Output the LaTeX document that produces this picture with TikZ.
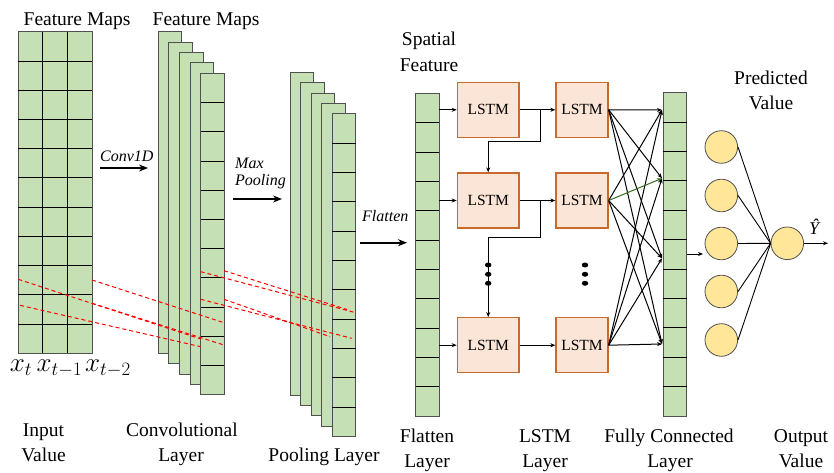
\RequirePackage{fix-cm}
\documentclass[tikz,border=0pt]{standalone}
\usepackage{fontspec}
\setmainfont{Liberation Serif}
\usetikzlibrary{arrows.meta,calc,shapes.geometric}
\definecolor{cellgreen}{RGB}{197,224,180}
\definecolor{lstmfill}{RGB}{251,229,214}
\definecolor{lstmedge}{RGB}{200,105,45}
\definecolor{neuronfill}{RGB}{255,230,153}
\definecolor{edgegray}{RGB}{80,80,80}
\definecolor{fcgreen}{RGB}{56,110,30}
\tikzset{
  colbox/.style={draw=edgegray, fill=cellgreen, line width=1, inner sep=0, outer sep=0, anchor=north west},
  rowline/.style={draw=black, line width=0.8},
  lbl/.style={font=\fontsize{19.5}{22}\selectfont, inner sep=0, anchor=base},
  ilbl/.style={font=\fontsize{16}{18}\selectfont\itshape, inner sep=0, anchor=base west},
  xlbl/.style={font=\fontsize{27}{30}\selectfont, inner sep=0, anchor=base},
  lstmbox/.style={draw=lstmedge, fill=lstmfill, line width=1.3, minimum height=55, inner sep=0, font=\fontsize{15.5}{17}\selectfont},
  neuron/.style={circle, draw=edgegray, fill=neuronfill, minimum size=32.6, inner sep=0, line width=0.8},
  arr/.style={-{Stealth[length=5pt,width=4pt]}, line width=1},
  bigarr/.style={-{Stealth[length=9pt,width=7pt]}, line width=2},
  reddash/.style={red, dash pattern=on 4pt off 3pt, line width=1},
  vdot/.style={ellipse, fill=black, minimum width=6.5, minimum height=5, inner sep=0}
}
\begin{document}
\begin{tikzpicture}[x=1pt,y=-1pt]
\useasboundingbox (0,0) rectangle (834,473);

% ---------- input grid ----------
\node[colbox, minimum width=73.7, minimum height=321.6] (inp) at (18.3,31.7) {};
\foreach \i in {1,...,10}
  \draw[rowline] ($(inp.north west)!\i/11!(inp.south west)$) -- ($(inp.north east)!\i/11!(inp.south east)$);
\foreach \j in {1,2}
  \draw[rowline] ($(inp.north west)!\j/3!(inp.north east)$) -- ($(inp.south west)!\j/3!(inp.south east)$);

% ---------- convolutional stack ----------
\foreach \k in {0,...,4}
  \node[colbox, minimum width=23.5, minimum height=321.5] (c\k) at ({158.3+10.6*\k},{31.7+10.4*\k}) {};
\foreach \i in {1,...,10}
  \draw[rowline] ($(c4.north west)!\i/11!(c4.south west)$) -- ($(c4.north east)!\i/11!(c4.south east)$);

% ---------- pooling stack ----------
\foreach \k in {0,...,4}
  \node[colbox, minimum width=23.6, minimum height=322.5] (p\k) at ({290+10.5*\k},{72.7+10.3*\k}) {};
\foreach \i in {1,...,10}
  \draw[rowline] ($(p4.north west)!\i/11!(p4.south west)$) -- ($(p4.north east)!\i/11!(p4.south east)$);

% ---------- flatten column ----------
\node[colbox, minimum width=23.6, minimum height=322.7] (flat) at (415.7,93.3) {};
\foreach \i in {1,...,10}
  \draw[rowline] ($(flat.north west)!\i/11!(flat.south west)$) -- ($(flat.north east)!\i/11!(flat.south east)$);

% ---------- fully connected column ----------
\node[colbox, minimum width=23.4, minimum height=323.3] (fc) at (663.3,92.7) {};
\foreach \i in {1,...,10}
  \draw[rowline] ($(fc.north west)!\i/11!(fc.south west)$) -- ($(fc.north east)!\i/11!(fc.south east)$);

% ---------- red dashed receptive fields ----------
\draw[reddash] (18.3,279.3) -- (200.7,339);
\draw[reddash] (92,280) -- (224,322.7);
\draw[reddash] (20,305.3) -- (200.7,346.7);
\draw[reddash] (92,303.3) -- (224,345);
\draw[reddash] (200.7,271.7) -- (355.7,312.7);
\draw[reddash] (224,270.7) -- (347,309.5);
\draw[reddash] (200.7,299.3) -- (351.7,338.3);
\draw[reddash] (224,299.3) -- (330,336.7);

% ---------- x labels ----------
\node[xlbl] (xa) at (21,371.7) {$x_t$};
\node[xlbl] (xb) at (59.5,371.7) {$x_{t-1}$};
\node[xlbl] (xc) at (108,371.7) {$x_{t-2}$};

% ---------- big arrows with italic labels ----------
\coordinate (a1s) at (100,168); \coordinate (a1e) at (148,168);
\draw[bigarr] (a1s) -- (a1e);
\node[ilbl] (conv) at (100,161.7) {Conv1D};
\coordinate (a2s) at (233,199); \coordinate (a2e) at (282,199);
\draw[bigarr] (a2s) -- (a2e);
\node[ilbl] (maxl) at (235,168.3) {Max};
\node[ilbl] (pooll) at (235,185) {Pooling};
\coordinate (a3s) at (360,242.7); \coordinate (a3e) at (407,242.7);
\draw[bigarr] (a3s) -- (a3e);
\node[ilbl] (flatl) at (362,221.7) {Flatten};

% ---------- LSTM boxes ----------
\node[lstmbox, minimum width=61.7] (l11) at (488.2,109.8) {LSTM};
\node[lstmbox, minimum width=52] (l12) at (582,109.8) {LSTM};
\node[lstmbox, minimum width=61.7] (l21) at (488.2,200.5) {LSTM};
\node[lstmbox, minimum width=52] (l22) at (582,200.5) {LSTM};
\node[lstmbox, minimum width=61.7] (l31) at (488.2,345.2) {LSTM};
\node[lstmbox, minimum width=52] (l32) at (582,345.2) {LSTM};

\foreach \r in {1,2,3} {
  \draw[arr] (flat.east |- l\r1) -- (l\r1);
  \draw[arr] (l\r1) -- (l\r2);
}
\coordinate (b1) at (540,109.8); \coordinate (k1) at (540,141.7);
\draw[arr] (b1) -- (k1) -| (l21.north);
\coordinate (b2) at (540,200.5); \coordinate (k2) at (540,237.3);
\draw[arr] (b2) -- (k2) -| (l31.north);
\foreach \yy [count=\n] in {265,274.3,283.3} {
  \node[vdot] (da\n) at (488.2,\yy) {};
  \node[vdot] (db\n) at (585,\yy) {};
}

% ---------- LSTM to fully connected ----------
\coordinate (t1) at (662,110);
\coordinate (t2) at (662,178.3);
\coordinate (t3) at (662,258.3);
\coordinate (t4) at (662,344);
\foreach \s in {l12,l32} \foreach \t in {t1,t2,t3,t4}
  \draw[arr] (\s.east) -- (\t);
\draw[arr] (l22.east) -- (t1);
\draw[arr] (l22.east) -- (t3);
\draw[arr] (l22.east) -- (t4);
\draw[arr, draw=fcgreen] (l22.east) -- (t2);

% ---------- output neurons ----------
\foreach \yy [count=\n] in {147,195.5,243.5,291.5,340}
  \node[neuron] (h\n) at (721.3,\yy) {};
\node[neuron] (out) at (787.3,243.3) {};
\foreach \n in {1,...,5}
  \draw[line width=0.9] (h\n.east) -- (out.west);
\coordinate (fco) at (687,254); \coordinate (fce) at (703,254);
\draw[arr] (fco) -- (fce);
\coordinate (ye) at (828,243.3);
\draw[arr] (out.east) -- (ye);
\node[inner sep=0, anchor=base, font=\fontsize{18}{20}\selectfont\itshape] (yhat) at (814,234) {Ŷ};

% ---------- text labels ----------
\node[lbl] (fm1) at (77,26) {Feature Maps};
\node[lbl] (fm2) at (206,26) {Feature Maps};
\node[lbl] (sp1) at (429,46) {Spatial};
\node[lbl] (sp2) at (429,71.7) {Feature};
\node[lbl] (pv1) at (771,85) {Predicted};
\node[lbl] (pv2) at (771,109.3) {Value};

\node[lbl] (in1) at (43.5,436.7) {Input};
\node[lbl] (in2) at (43.5,461.7) {Value};
\node[lbl] (cv1) at (182,436.7) {Convolutional};
\node[lbl] (cv2) at (181,461.7) {Layer};
\node[lbl] (pl) at (324,461.7) {Pooling Layer};
\node[lbl] (fl1) at (427,442) {Flatten};
\node[lbl] (fl2) at (427,467) {Layer};
\node[lbl] (ls1) at (545,442) {LSTM};
\node[lbl] (ls2) at (545,467) {Layer};
\node[lbl] (fcl1) at (669,442) {Fully Connected};
\node[lbl] (fcl2) at (670,467) {Layer};
\node[lbl] (ov1) at (801,442) {Output};
\node[lbl] (ov2) at (801,467) {Value};
\end{tikzpicture}
\end{document}
